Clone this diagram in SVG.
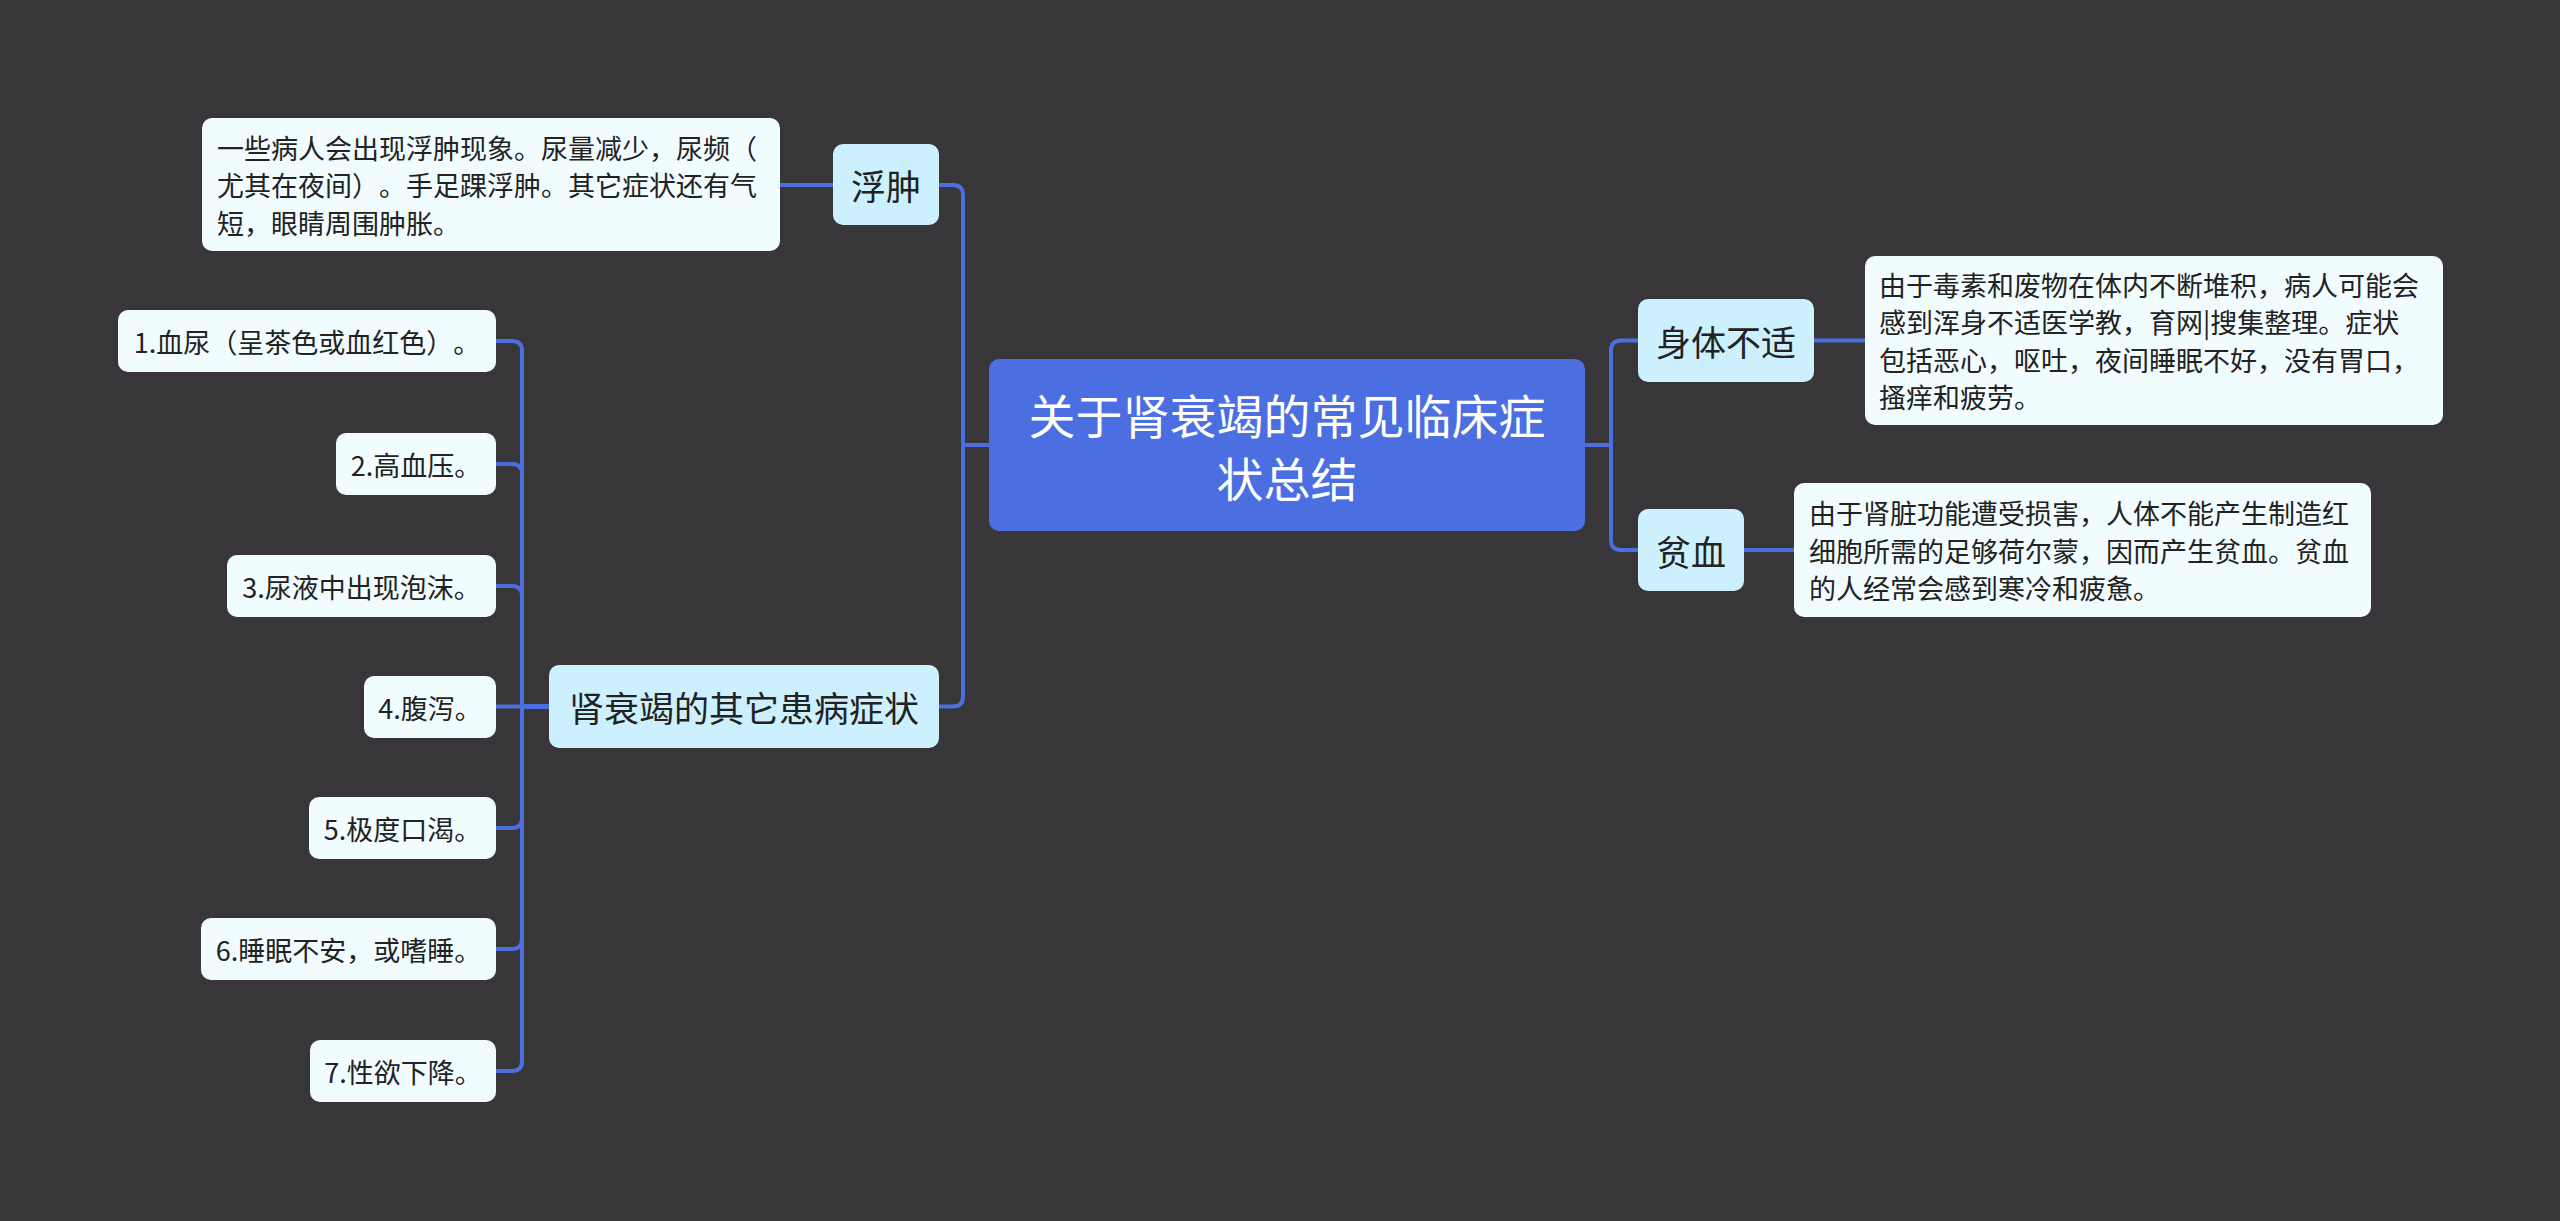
<svg xmlns="http://www.w3.org/2000/svg" width="2560" height="1221" viewBox="0 0 2560 1221">
<style>
.bg{fill:#383638}
.root rect{fill:#4b6ee0}
.root text{fill:#ffffff;font-size:47px}
.l1 rect{fill:#ccf0fd}
.l1 text{fill:#222222;font-size:35px}
.l2 rect{fill:#f1fcfe}
.l2 text{fill:#222222;font-size:27px}
text{font-family:"Noto Sans CJK SC","Noto Sans",sans-serif;dominant-baseline:central;text-spacing-trim:space-all;font-feature-settings:"halt" 0,"palt" 0}
.c{fill:none;stroke:#4b6ee0;stroke-width:4;stroke-linejoin:round}
</style>
<rect class="bg" x="0" y="0" width="2560" height="1221"/>
<g id="connectors">
<path class="c" d="M989 445 H963 V195 Q963 185 953 185 H939"/>
<path class="c" d="M989 445 H963 V696.5 Q963 706.5 953 706.5 H939"/>
<path class="c" d="M1585 445 H1611 V350.5 Q1611 340.5 1621 340.5 H1638"/>
<path class="c" d="M1585 445 H1611 V540 Q1611 550 1621 550 H1638"/>
<path class="c" d="M833 185 H780"/>
<path class="c" d="M1814 340.5 H1865"/>
<path class="c" d="M1744 550 H1794"/>
<path class="c" d="M549 706.5 H522 V351 Q522 341 512 341 H496"/>
<path class="c" d="M549 706.5 H522 V474 Q522 464 512 464 H496"/>
<path class="c" d="M549 706.5 H522 V596 Q522 586 512 586 H496"/>
<path class="c" d="M549 706.5 H496"/>
<path class="c" d="M549 706.5 H522 V818 Q522 828 512 828 H496"/>
<path class="c" d="M549 706.5 H522 V939 Q522 949 512 949 H496"/>
<path class="c" d="M549 706.5 H522 V1061 Q522 1071 512 1071 H496"/>
</g>
<g id="root" class="root">
<rect x="989" y="359" width="596" height="172" rx="10"/>
<text x="1287" y="413.5" text-anchor="middle">关于肾衰竭的常见临床症</text>
<text x="1287" y="476.5" text-anchor="middle">状总结</text>
</g>
<g id="n-fuzhong" class="l1">
<rect x="833" y="144" width="106" height="81" rx="10"/>
<text x="886" y="184.5" text-anchor="middle">浮肿</text>
</g>
<g id="n-other" class="l1">
<rect x="549" y="665" width="390" height="83" rx="10"/>
<text x="744" y="706.5" text-anchor="middle">肾衰竭的其它患病症状</text>
</g>
<g id="n-shenti" class="l1">
<rect x="1638" y="299" width="176" height="83" rx="10"/>
<text x="1726" y="340.5" text-anchor="middle">身体不适</text>
</g>
<g id="n-pinxue" class="l1">
<rect x="1638" y="509" width="106" height="82" rx="10"/>
<text x="1691" y="550" text-anchor="middle">贫血</text>
</g>
<g id="d-fuzhong" class="l2">
<rect x="202" y="118" width="578" height="133" rx="10"/>
<text x="217" y="147">一些病人会出现浮肿现象。尿量减少，尿频（</text>
<text x="217" y="184.5">尤其在夜间）。手足踝浮肿。其它症状还有气</text>
<text x="217" y="222">短，眼睛周围肿胀。</text>
</g>
<g id="d-shenti" class="l2">
<rect x="1865" y="256" width="578" height="169" rx="10"/>
<text x="1879" y="284.25">由于毒素和废物在体内不断堆积，病人可能会</text>
<text x="1879" y="321.75">感到浑身不适医学教，育网|搜集整理。症状</text>
<text x="1879" y="359.25">包括恶心，呕吐，夜间睡眠不好，没有胃口，</text>
<text x="1879" y="396.75">搔痒和疲劳。</text>
</g>
<g id="d-pinxue" class="l2">
<rect x="1794" y="483" width="577" height="134" rx="10"/>
<text x="1809" y="512.5">由于肾脏功能遭受损害，人体不能产生制造红</text>
<text x="1809" y="550">细胞所需的足够荷尔蒙，因而产生贫血。贫血</text>
<text x="1809" y="587.5">的人经常会感到寒冷和疲惫。</text>
</g>
<g id="i1" class="l2">
<rect x="118" y="310" width="378" height="62" rx="10"/>
<text x="307" y="341" text-anchor="middle">1.血尿（呈茶色或血红色）。</text>
</g>
<g id="i2" class="l2">
<rect x="336" y="433" width="160" height="62" rx="10"/>
<text x="416" y="464" text-anchor="middle">2.高血压。</text>
</g>
<g id="i3" class="l2">
<rect x="227" y="555" width="269" height="62" rx="10"/>
<text x="361.5" y="586" text-anchor="middle">3.尿液中出现泡沫。</text>
</g>
<g id="i4" class="l2">
<rect x="364" y="676" width="132" height="62" rx="10"/>
<text x="430" y="707" text-anchor="middle">4.腹泻。</text>
</g>
<g id="i5" class="l2">
<rect x="309" y="797" width="187" height="62" rx="10"/>
<text x="402.5" y="828" text-anchor="middle">5.极度口渴。</text>
</g>
<g id="i6" class="l2">
<rect x="201" y="918" width="295" height="62" rx="10"/>
<text x="348.5" y="949" text-anchor="middle">6.睡眠不安，或嗜睡。</text>
</g>
<g id="i7" class="l2">
<rect x="310" y="1040" width="186" height="62" rx="10"/>
<text x="403" y="1071" text-anchor="middle">7.性欲下降。</text>
</g>
</svg>
